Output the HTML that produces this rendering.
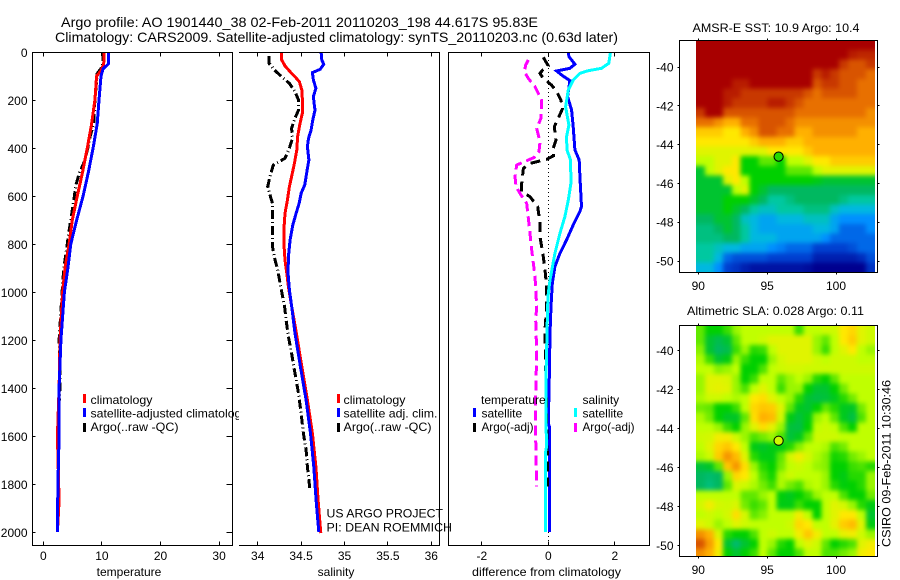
<!DOCTYPE html>
<html lang="en">
<head>
<meta charset="utf-8">
<title>Argo profile 1901440_38</title>
<style>
html,body{margin:0;padding:0;background:#fff;width:900px;height:580px;overflow:hidden}
svg{display:block;position:absolute;left:0;top:0}
text{font-family:"Liberation Sans",Arial,sans-serif;font-size:12px;fill:#000}
.title{font-size:14px}
.crisp line,.crisp rect,.crisp polyline{shape-rendering:crispEdges}
</style>
</head>
<body>
<svg id="chart" width="900" height="580" viewBox="0 0 900 580" xmlns="http://www.w3.org/2000/svg">
  <defs>
    <filter id="cellSoften" x="-10%" y="-10%" width="120%" height="120%" color-interpolation-filters="sRGB">
      <feGaussianBlur stdDeviation="2.4"/>
    </filter>
    <clipPath id="clipSst"><rect x="696" y="41" width="179" height="231"/></clipPath>
    <clipPath id="clipSla"><rect x="696" y="326" width="179" height="230"/></clipPath>
  </defs>
  <rect x="0" y="0" width="900" height="580" fill="#fff"/>
  <text class="title" x="61" y="27" textLength="477" lengthAdjust="spacingAndGlyphs">Argo profile: AO 1901440_38 02-Feb-2011 20110203_198 44.617S 95.83E</text>
  <text class="title" x="55" y="42" textLength="563" lengthAdjust="spacingAndGlyphs">Climatology: CARS2009. Satellite-adjusted climatology: synTS_20110203.nc (0.63d later)</text>

  <g id="panelTemp" class="crisp"></g>
  <g>
    <rect class="crisp" x="83" y="394" width="3" height="9" fill="#f00"/>
    <rect class="crisp" x="83" y="408" width="3" height="9" fill="#00f"/>
    <rect class="crisp" x="83" y="423" width="3" height="9" fill="#000"/>
    <text x="90.5" y="404" textLength="62" lengthAdjust="spacingAndGlyphs">climatology</text>
    <text x="90.5" y="417.5" textLength="157" lengthAdjust="spacingAndGlyphs">satellite-adjusted climatology</text>
    <text x="90.5" y="431" textLength="88" lengthAdjust="spacingAndGlyphs">Argo(..raw -QC)</text>
  </g>

  <rect x="239" y="52" width="201" height="494" fill="#fff"/>
  <g id="panelSal" class="crisp"></g>
  <g>
    <rect class="crisp" x="337" y="394" width="3" height="9" fill="#f00"/>
    <rect class="crisp" x="337" y="408" width="3" height="9" fill="#00f"/>
    <rect class="crisp" x="337" y="423" width="3" height="9" fill="#000"/>
    <text x="343.5" y="404" textLength="62" lengthAdjust="spacingAndGlyphs">climatology</text>
    <text x="343.5" y="417.5" textLength="94" lengthAdjust="spacingAndGlyphs">satellite adj. clim.</text>
    <text x="343.5" y="431" textLength="88" lengthAdjust="spacingAndGlyphs">Argo(..raw -QC)</text>
  </g>

  <g id="panelDiff" class="crisp"></g>
  <g>
    <text x="481" y="404">temperature</text>
    <rect class="crisp" x="473" y="408" width="3" height="9" fill="#00f"/>
    <rect class="crisp" x="473" y="423" width="3" height="9" fill="#000"/>
    <text x="481.5" y="417.5">satellite</text>
    <text x="481.5" y="431" textLength="52" lengthAdjust="spacingAndGlyphs">Argo(-adj)</text>
    <text x="582.5" y="404">salinity</text>
    <rect class="crisp" x="574" y="408" width="3" height="9" fill="#0ff"/>
    <rect class="crisp" x="574" y="423" width="3" height="9" fill="#f0f"/>
    <text x="582.5" y="417.5">satellite</text>
    <text x="582.5" y="431" textLength="52" lengthAdjust="spacingAndGlyphs">Argo(-adj)</text>
  </g>

  <text x="326.5" y="517.5" textLength="116.5" lengthAdjust="spacingAndGlyphs">US ARGO PROJECT</text>
  <text x="326.5" y="531.5" textLength="125.5" lengthAdjust="spacingAndGlyphs">PI: DEAN ROEMMICH</text>

  <text x="692.5" y="32" textLength="167" lengthAdjust="spacingAndGlyphs">AMSR-E SST: 10.9 Argo: 10.4</text>
  <g id="mapSst" class="crisp"></g>
  <text x="687" y="315" textLength="177" lengthAdjust="spacingAndGlyphs">Altimetric SLA: 0.028 Argo: 0.11</text>
  <g id="mapSla" class="crisp"></g>
  <text transform="translate(890.5,547) rotate(-90)" textLength="167" lengthAdjust="spacingAndGlyphs">CSIRO 09-Feb-2011 10:30:46</text>
</svg>
<script>
// ---- Depth axis ----
const depthTicks = [0,200,400,600,800,1000,1200,1400,1600,1800,2000];

// ---- Temperature panel ----
const tempTicks = [0,10,20,30];
const tempArgoDepth = [0,60,90,200,300,350,400,450,480,500,560,600,650,700,760,800,850,900,1000,1200,1370,1600,1650];
const tempArgoValues = [10.3,10.1,9.2,8.8,8.6,8,7.6,7.1,6.6,6.2,5.5,5.3,5,4.7,4.3,4.1,3.8,3.5,3.2,2.7,2.9,2.4,2.4];
const tempClimDepth = [0,50,80,100,200,300,400,450,500,600,700,800,900,1000,1200,1400,1600,1870,2000];
const tempClimValues = [10.4,10.3,9.8,9.1,8.8,8.25,7.5,7.1,6.7,5.8,4.95,4.4,3.7,3.3,2.85,2.7,2.4,2.7,2.4];
const tempSatDepth = [0,50,70,100,200,300,400,500,600,700,800,900,1000,1200,1400,1600,1800,2000];
const tempSatValues = [11.1,11.1,10.2,9.85,9.5,9.2,8.5,7.7,6.8,5.7,4.7,4.2,3.6,3.0,2.7,2.7,2.5,2.4];

// ---- Salinity panel ----
const salTicks = [34,34.5,35,35.5,36];
const salArgoDepth = [17,47,78,103,131,165,200,242,276,318,360,401,443,471,519,561,596,631,811,853,908,978,1061,1117,1186,1256,1325,1422,1505,1589,1658,1728,1818];
const salArgoValues = [34.13,34.13,34.2,34.277,34.365,34.43,34.47,34.47,34.43,34.39,34.4,34.365,34.315,34.18,34.142,34.115,34.142,34.17,34.17,34.19,34.23,34.265,34.31,34.327,34.354,34.39,34.423,34.47,34.5,34.527,34.558,34.573,34.6];
const salClimDepth = [0,33,58,82,103,124,158,200,249,283,311,353,408,464,519,561,617,672,728,811,867,922,978,1061,1172,1311,1450,1589,1728,1867,2005];
const salClimValues = [34.277,34.277,34.315,34.373,34.43,34.48,34.508,34.515,34.519,34.496,34.48,34.46,34.45,34.423,34.39,34.365,34.342,34.315,34.304,34.304,34.315,34.335,34.354,34.392,34.446,34.508,34.573,34.63,34.67,34.696,34.727];
const salSatDepth = [0,33,51,72,86,117,151,186,214,242,283,325,360,394,450,485,519,554,589,631,672,721,783,853,922,992,1061,1172,1311,1450,1589,1728,1867,2000];
const salSatValues = [34.73,34.738,34.76,34.72,34.63,34.642,34.67,34.642,34.65,34.66,34.635,34.615,34.585,34.573,34.59,34.573,34.558,34.542,34.5,34.477,34.442,34.404,34.373,34.354,34.35,34.365,34.392,34.43,34.492,34.558,34.608,34.646,34.673,34.704];

// ---- Difference panel ----
const diffTicks = [-2,0,2];
const diffTempSatDepth = [0,19,51,68,79,96,119,186,242,311,408,450,519,644,665,721,783,839,894,964,1061,1172,1353,1547,1561,2000];
const diffTempSatValues = [0.6,0.62,0.8,0.65,0.25,0.4,0.65,0.58,0.7,0.75,0.8,0.93,0.95,1.0,0.95,0.75,0.55,0.35,0.2,0.12,0.08,0.05,0.03,0,0.03,0.03];
const diffTempArgoDepth = [22,58,75,89,110,138,165,200,235,276,311,367,401,433,447,464,485,547,582,603,644,714,769,853,908,978,1061,1158,1672,1811];
const diffTempArgoValues = [-0.15,0,-0.17,-0.25,-0.15,0.1,0.25,0.38,0.43,0.3,0.18,0.23,0.15,0.15,-0.05,-0.55,-0.75,-0.8,-0.8,-0.55,-0.32,-0.25,-0.25,-0.15,-0.1,-0.05,-0.05,-0.1,-0.03,-0.03];
const diffSalSatDepth = [0,47,68,78,89,117,158,228,304,353,408,450,547,617,686,756,839,950,1006,1061,1172,1353,1547,1644,1672,2000];
const diffSalSatValues = [1.87,1.82,1.6,1.2,0.95,0.75,0.6,0.52,0.62,0.55,0.56,0.67,0.68,0.6,0.5,0.35,0.2,0.05,0,-0.02,-0.04,-0.07,-0.07,-0.05,-0.09,-0.09];
const diffSalArgoDepth = [33,54,82,110,144,200,276,318,374,415,439,453,471,519,561,596,631,728,825,936,1061,1117,1256,1422,1617,1811];
const diffSalArgoValues = [-0.6,-0.68,-0.72,-0.6,-0.4,-0.2,-0.22,-0.35,-0.25,-0.28,-0.42,-0.65,-0.95,-1.0,-0.97,-0.82,-0.65,-0.57,-0.5,-0.4,-0.35,-0.38,-0.35,-0.38,-0.38,-0.35];

// ---- Maps ----
const mapLonTicks = [90,95,100];
const mapLatTicks = [-40,-42,-44,-46,-48,-50];
const floatLon = [95.83];
const floatLat = [-44.617];
const colourStops = ['#00008f','#0040d0','#0090ff','#00b8e0','#00c8a0','#00b860','#00d000','#c0ff00','#ffe800','#ffb000','#e87000','#c83800','#a80000'];
const sstCells = [
[12,12,12,12,12,12,12,12,12,12,12,12,12,12,12,12,12,12,12,12],
[12,12,12,12,12,12,12,12,12,12,12,12,12,12,12,12,12,11.5,11.3,11.3],
[12,12,12,12,12,12,12,12,12,12,12,12,12,12,12,12,11,10.5,10.5,11],
[12,12,12,12,12,12,12,12,12,12,12,12,12,11,11.5,11,10.5,10.5,10.5,10],
[12,12,12,12,11.5,11.5,12,12,12,12,12,12,12,10.5,11,11,10.5,10.5,10,10],
[12,12,12,11.5,11.5,11,11,11,11,11,11,11,10.5,10,10.5,10.5,10.5,10.5,10,10],
[12,12,12,11.5,11,11,11,11,11.5,11.5,11,10.5,10,10,10,10,10,10,10,10],
[11,12,12,10.5,10.5,10.5,10.5,10.5,10.5,10.5,10.5,10,10,10,10,10,10,10,10,9.5],
[10,10,9.5,9,9,10,10,10.5,10.5,10.5,10,9.5,9.5,9.5,9.5,9.5,9.5,9.5,9.5,9.5],
[8.5,8.5,8.5,8,8,9,9.5,10.5,10.5,10,10,9,9,9.5,9.5,9.5,9.5,9.5,9,9],
[8,8,8,8,8,8,8.5,9,9,9,8.5,8.5,9,9,9,9,9,9,9,9],
[7.5,7.5,7.5,7.5,7.5,7.5,7.5,7.5,8,8,8,8,8.5,9,9,9,9,9,9,9],
[7,7,7.5,7.5,8,6,6,6.5,6.5,6,7,7,7.5,8,8,8.5,8.5,8.5,8.5,8.5],
[5.5,7,7.5,8,8,6,6,6,6,6,6.5,6.5,6.5,7,7.5,7.5,7.5,7.5,7.5,7.5],
[5.5,5.5,5.5,7.5,8,7,6,6,6,6,6,6,6,5.8,5.5,5.5,5.5,5.5,5.5,5.5],
[5.5,5.5,5.5,5.5,7,7.5,6,5.5,5,5,5,5,5,5,5,5,5,5,5,5],
[5.5,5.5,5.5,6,6,6,5.5,5,4,4,4.5,5,5,5,5,5,4.5,4,4,4],
[5.5,5.5,5.5,6,5.5,5,4,3.5,3.5,4,4,4,4.5,4.5,4.5,3.5,3,3,3,3],
[5,5,5.5,5.5,5,3.5,3,2.5,2.5,3,3,3,3.5,3.5,3.5,2.5,2,2,2,2],
[4.5,4.5,5,5.5,5,4,3,2.5,2.5,2.5,2.5,2.5,2.5,3,3,2.5,1.5,1.5,1.5,2],
[4.5,4.5,4.5,5,5,4,3,3,3,2.5,2.5,2.5,2.5,2.5,2,1.5,1.5,1.5,1.5,1.5],
[4,4,3.5,3,3,2.5,2.5,2.5,2,1.8,1.5,1.5,1.5,1,1,1,1,1.2,1.5,1.5],
[4,4,3,1.5,1.2,1.2,1.2,1.2,1,1,1,1,1,0.5,0.5,0.5,0.5,0.5,0.7,1.2],
[3,3,2,1,0.8,0.5,0.3,0.3,0.3,0.3,0.3,0.3,0.2,0,0,0,0,0,0,0.8]
];
const slaCells = [
[6.5,6,6,6.3,6.8,7,7,7,7,7,7,6.3,7,7,7.2,7.2,8,8.3,7.5,7.2],
[6.5,5.5,5.2,5.5,6.5,7,7,7.2,7.5,7.5,7.5,7.5,7.5,6.8,6.5,7,8,8.5,7.5,7.2],
[6.7,5.5,5,5.2,6.3,6.8,6.2,6.3,7,7.5,7.5,7.5,7.5,6.8,6.3,7,7.5,8,7,6.8],
[6.9,6.3,5.5,5.8,6.8,6.3,6,6,6.8,7.3,7.5,7.5,7.5,7.2,7,7.2,7.2,7.2,7,7],
[7,7,6.7,6.8,7,6,6,6.4,7,7.2,7.3,7.3,7.2,7.2,7.2,7.2,7.2,7.2,7.2,7.2],
[6.8,7.5,7.5,7.4,6.8,6,6.3,7,7,6.5,6.8,7,6.8,6.2,6,6.5,7,7,7,7],
[6.8,7.5,7.6,7.5,6.8,6.4,7,7.5,7,6.3,6.8,6.8,6,5.5,5.5,6,6.6,7,7,7],
[6.9,7.2,7.2,7,6.9,7,8,8.2,7.5,7,6.8,6.2,5.5,5.3,5.4,5.7,6.2,6.6,7,7],
[6.6,6.5,6,6,6.3,7,8.3,8.6,8.5,7.5,6.5,5.7,5.5,6,6.5,6.2,5.7,5.6,6.6,7],
[6.9,6.6,6,5.6,5.6,6.5,8.2,9,8.8,7.3,5.8,5.4,5.8,6.8,7,6.5,5.7,5.3,6.4,7],
[7,7,6.8,6.3,6,6.8,7.5,8.2,7.6,6.8,5.4,5.3,6,7,7.2,7,6.4,6,7,7],
[7.2,7.3,7.8,7.8,7.2,6.8,6.4,6.6,6.8,6.4,5.4,5.7,6.5,7.2,7.2,7.2,7,7,7,7],
[7,7.5,8.3,8.6,8,7,5.8,5.6,5.8,5.8,6.2,6.7,7,7,6.9,6.4,6.6,7,7,7],
[6.9,7.2,8.5,9.4,8.8,7.5,6.2,5.8,5.8,6.5,7.3,7.8,7.3,6.9,6.7,6.1,6.2,6.6,6.8,7],
[5.4,5.6,6.5,8.6,9.4,8.2,6.8,6.2,6,6.6,7,7.2,7,6.8,6.7,6,6,6.3,6.4,6.2],
[5,4.8,5,6.8,8.3,8,7,6.4,6.1,6.9,7.2,7,7,7,6.8,6,5.8,6.2,6.2,6.8],
[5,4.6,5,6.5,7.4,7.2,6.9,6.6,6.3,6.9,6.6,6.4,6.9,7,6.8,6.2,5.9,6,6.2,6.8],
[7,7,7,7,7,6.5,6.5,6.8,7,5.9,5.7,6,6.3,6.8,7,7,6.4,6,6,6.6],
[7.3,7.8,7.3,7.2,7.4,6.6,6.3,6.5,7,5.8,5.8,6.3,6,6,7,7.5,7.3,6.8,6.2,5.8],
[7,7.2,7,7.3,8.2,7.3,6.5,6.7,7,7,7,7.8,7,6,7,7.5,8,8,7,5.5],
[7.5,7.2,6.8,7,7.5,7.2,7,7,7,7,7.2,8.3,8,7,7,7.6,8.5,8.8,7.5,5.8],
[9.5,9,7.4,6.2,6,6,6.4,7,7.2,7,7,7.8,8.6,7.8,7,7,7.6,7.8,7.2,6.8],
[10.5,9.3,8,5.5,4.8,5.5,6,7,6.8,6.2,6,7,7.5,7.2,6.5,6,6.2,6.4,7.5,7.8],
[9.5,9,7.8,6,5.5,6,6.3,7,6.5,6,6,6.4,7,7,6.4,6.4,6.6,6.8,7.8,8]
];
const sstFloatValue = [6.2];
const slaFloatValue = [7.2];

// ---- Axis functions ----
const SVGNS = 'http://www.w3.org/2000/svg';
const depthY = d => 52 + d * 0.24;
const tempX = v => 43.3 + v * 5.86;
const salX = v => 257.7 + (v - 34) * 86.8;
const diffX = v => 548.3 + v * 33.25;
const mapX = lon => 698.3 + (lon - 90) * 13.77;
const sstY = lat => 67 + (-40 - lat) * 19.4;
const slaY = lat => 350.7 + (-40 - lat) * 19.5;
const CELL_LON = 0.65, LON0 = 89.83, CELL_LAT = 0.498;
const EDGE_BLEED = 10; // outer cells run past the clip so the softening does not fade at the edges

function make(tag, attrs) {
  const n = document.createElementNS(SVGNS, tag);
  for (const k in attrs) n.setAttribute(k, attrs[k]);
  return n;
}
function crisp(v) { return Math.floor(v) + 0.5; }

function hLine(parent, x1, x2, y, name) {
  const l = make('line', {x1: x1, x2: x2, y1: y, y2: y, stroke: '#000', 'stroke-width': 1});
  
  
  parent.appendChild(l);
}
function vLine(parent, x, y1, y2, name) {
  const l = make('line', {x1: x, x2: x, y1: y1, y2: y2, stroke: '#000', 'stroke-width': 1});
  
  
  parent.appendChild(l);
}
function label(parent, str, x, y, anchor, name) {
  const t = make('text', {x: x, y: y, 'text-anchor': anchor});
  t.textContent = str;
  
  
  parent.appendChild(t);
  return t;
}
function series(parent, depths, values, xFn, colour, dash, name) {
  const pts = depths.map((d, i) => xFn(values[i]).toFixed(1) + ',' + depthY(d).toFixed(1)).join(' ');
  const p = make('polyline', {points: pts, fill: 'none', stroke: colour, 'stroke-width': 3, 'stroke-linejoin': 'miter'});
  if (dash) p.setAttribute('stroke-dasharray', dash);
  
  
  parent.appendChild(p);
}
function xTicks(parent, ticks, xFn, name) {
  ticks.forEach(v => {
    const x = crisp(xFn(v));
    vLine(parent, x, 52.5, 56.5, name + '-top-tick');
    vLine(parent, x, 541.5, 545.5, name + '-bottom-tick');
    label(parent, String(v), xFn(v), 560, 'middle', name + '-tick-label');
  });
}

// ---- Temperature panel ----
const gT = document.getElementById('panelTemp');
series(gT, tempArgoDepth, tempArgoValues, tempX, '#000', '9 3 1 3', 'temperature-argo-line');
series(gT, tempClimDepth, tempClimValues, tempX, '#f00', null, 'temperature-climatology-line');
series(gT, tempSatDepth, tempSatValues, tempX, '#00f', null, 'temperature-satellite-line');
hLine(gT, 32, 233, 52.5, 'temperature-top-axis');
hLine(gT, 32, 233, 545.5, 'temperature-bottom-axis');
vLine(gT, 32.5, 52, 546, 'temperature-left-axis');
vLine(gT, 232.5, 52, 546, 'temperature-right-axis');
depthTicks.forEach(d => {
  const y = crisp(depthY(d));
  hLine(gT, 32.5, 35.5, y, 'depth-left-tick');
  hLine(gT, 226.5, 232.5, y, 'depth-right-tick');
  label(gT, String(d), 27.5, depthY(d) + 5, 'end', 'depth-tick-label');
});
xTicks(gT, tempTicks, tempX, 'temperature');
label(gT, 'temperature', 129, 576, 'middle', 'temperature-axis-title');

// ---- Salinity panel ----
const gS = document.getElementById('panelSal');
series(gS, salArgoDepth, salArgoValues, salX, '#000', '9 3 1 3', 'salinity-argo-line');
series(gS, salClimDepth, salClimValues, salX, '#f00', null, 'salinity-climatology-line');
series(gS, salSatDepth, salSatValues, salX, '#00f', null, 'salinity-satellite-line');
hLine(gS, 239, 440, 52.5, 'salinity-top-axis');
hLine(gS, 239, 440, 545.5, 'salinity-bottom-axis');
vLine(gS, 439.5, 52, 546, 'salinity-right-axis');
xTicks(gS, salTicks, salX, 'salinity');
label(gS, 'salinity', 336, 576, 'middle', 'salinity-axis-title');

// ---- Difference panel ----
const gD = document.getElementById('panelDiff');
const zero = make('line', {x1: 548.5, x2: 548.5, y1: 52, y2: 545, stroke: '#000', 'stroke-width': 1, 'stroke-dasharray': '1 3'});


gD.appendChild(zero);
series(gD, diffTempSatDepth, diffTempSatValues, diffX, '#00f', null, 'difference-temperature-satellite-line');
series(gD, diffTempArgoDepth, diffTempArgoValues, diffX, '#000', '10 6', 'difference-temperature-argo-line');
series(gD, diffSalSatDepth, diffSalSatValues, diffX, '#0ff', null, 'difference-salinity-satellite-line');
series(gD, diffSalArgoDepth, diffSalArgoValues, diffX, '#f0f', '10 5', 'difference-salinity-argo-line');
hLine(gD, 448, 650, 52.5, 'difference-top-axis');
hLine(gD, 448, 650, 545.5, 'difference-bottom-axis');
vLine(gD, 448.5, 52, 546, 'difference-left-axis');
vLine(gD, 649.5, 52, 546, 'difference-right-axis');
xTicks(gD, diffTicks, diffX, 'difference');
const diffTitle = label(gD, 'difference from climatology', 546.5, 576, 'middle', 'difference-axis-title');
diffTitle.setAttribute('textLength', '149');
diffTitle.setAttribute('lengthAdjust', 'spacingAndGlyphs');

// ---- Maps ----
function colourFor(v) {
  const c = Math.max(0, Math.min(colourStops.length - 1, v));
  const i = Math.min(colourStops.length - 2, Math.floor(c));
  const f = c - i;
  const a = colourStops[i], b = colourStops[i + 1];
  const ch = o => Math.round(parseInt(a.substr(o, 2), 16) * (1 - f) + parseInt(b.substr(o, 2), 16) * f);
  return 'rgb(' + ch(1) + ',' + ch(3) + ',' + ch(5) + ')';
}
function drawMap(parent, cells, yFn, lat0, clipId, top, bottom, labelBase, floatValue, name) {
  const clip = make('g', {'clip-path': 'url(#' + clipId + ')'});
  
  
  parent.appendChild(clip);
  const soft = make('g', {filter: 'url(#cellSoften)'});
  
  
  clip.appendChild(soft);
  cells.forEach((row, r) => {
    row.forEach((v, c) => {
      let x0 = mapX(LON0 + c * CELL_LON), x1 = mapX(LON0 + (c + 1) * CELL_LON);
      let y0 = yFn(lat0 - r * CELL_LAT), y1 = yFn(lat0 - (r + 1) * CELL_LAT);
      if (c === 0) x0 -= EDGE_BLEED;
      if (c === row.length - 1) x1 += EDGE_BLEED;
      if (r === 0) y0 -= EDGE_BLEED;
      if (r === cells.length - 1) y1 += EDGE_BLEED;
      const cell = make('rect', {x: x0.toFixed(1), y: y0.toFixed(1), width: (x1 - x0 + 0.6).toFixed(1), height: (y1 - y0 + 0.6).toFixed(1), fill: colourFor(v)});
      
      
      soft.appendChild(cell);
    });
  });
  hLine(parent, 679, 878, top, name + '-top-axis');
  hLine(parent, 679, 878, bottom, name + '-bottom-axis');
  vLine(parent, 679.5, top, bottom, name + '-left-axis');
  vLine(parent, 877.5, top, bottom, name + '-right-axis');
  mapLonTicks.forEach(lon => {
    const x = crisp(mapX(lon));
    vLine(parent, x, top - 2, top, name + '-lon-top-tick');
    vLine(parent, x, bottom, bottom + 2, name + '-lon-bottom-tick');
    label(parent, String(lon), mapX(lon), labelBase, 'middle', name + '-lon-tick-label');
  });
  mapLatTicks.forEach(lat => {
    const y = crisp(yFn(lat));
    hLine(parent, 677.5, 679.5, y, name + '-lat-left-tick');
    hLine(parent, 877.5, 879.5, y, name + '-lat-right-tick');
    label(parent, String(lat), 673.5, yFn(lat) + 4.5, 'end', name + '-lat-tick-label');
  });
  const dot = make('circle', {cx: mapX(floatLon[0]).toFixed(1), cy: yFn(floatLat[0]).toFixed(1), r: 4.6, fill: colourFor(floatValue[0]), stroke: '#000', 'stroke-width': 1});
  
  
  parent.appendChild(dot);
}
drawMap(document.getElementById('mapSst'), sstCells, sstY, -38.62, 'clipSst', 40.5, 272.5, 290, sstFloatValue, 'sst-map');
drawMap(document.getElementById('mapSla'), slaCells, slaY, -38.7, 'clipSla', 325.5, 556.5, 574, slaFloatValue, 'sla-map');
</script>
</body>
</html>
